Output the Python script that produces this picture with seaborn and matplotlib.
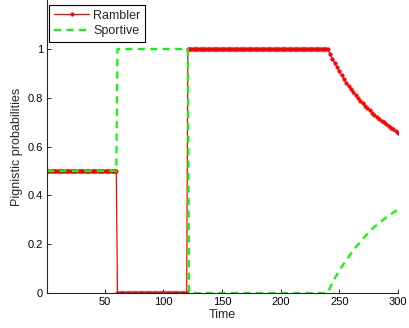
import numpy as np
import pandas as pd
import matplotlib
matplotlib.use("Agg")
import matplotlib.pyplot as plt
import seaborn as sns

# ---- data ----
time_start = 1
time_end = 300

# Rambler: constant levels up to segment ends, then decaying tail
rambler_levels = [0.5, 0.0, 1.0]
rambler_ends = [60, 120, 240]
rambler_tail_t = [240, 242, 244, 246, 248, 250, 252, 254, 256, 258, 260,
                  262, 264, 266, 268, 270, 272, 274, 276, 278, 280,
                  282, 284, 286, 288, 290, 292, 294, 296, 298, 300]
rambler_tail = [1.000, 0.980, 0.961, 0.943, 0.926, 0.909, 0.893, 0.877, 0.862, 0.848, 0.835,
                0.822, 0.810, 0.799, 0.788, 0.777, 0.767, 0.757, 0.748, 0.739, 0.730,
                0.722, 0.714, 0.706, 0.699, 0.692, 0.685, 0.678, 0.671, 0.664, 0.657]

# Sportive: constant levels up to segment ends, then rising tail
sportive_levels = [0.5, 1.0, 0.0]
sportive_ends = [60, 121, 240]
sportive_tail_t = [240, 245, 250, 255, 260, 265, 270, 275, 280, 285, 290, 295, 300]
sportive_tail = [0.0, 0.050, 0.092, 0.128, 0.162, 0.193, 0.221, 0.248, 0.271,
                 0.291, 0.310, 0.326, 0.342]

x_ticks = [50, 100, 150, 200, 250, 300]
y_ticks = [0, 0.2, 0.4, 0.6, 0.8, 1]


def build(levels, ends, tail_t, tail_v):
    ts, vs = [], []
    start = time_start
    for lvl, end in zip(levels, ends):
        seg = np.arange(start, end + 1)
        ts.extend(seg.tolist())
        vs.extend([lvl] * len(seg))
        start = end + 1
    ts.extend(tail_t[1:])
    vs.extend(tail_v[1:])
    return pd.DataFrame({"Time": ts, "p": vs})


df_r = build(rambler_levels, rambler_ends, rambler_tail_t, rambler_tail)
df_s = build(sportive_levels, sportive_ends, sportive_tail_t, sportive_tail)

sns.set_style("white")
plt.rcParams["font.family"] = ["Liberation Sans", "DejaVu Sans"]

fig = plt.figure(figsize=(4.09, 3.28), dpi=100)
ax = fig.add_axes([0.115, 0.1067, 0.858, 0.8927])

sns.lineplot(data=df_r, x="Time", y="p", ax=ax, color="red", lw=0.9,
             marker="o", markersize=2.6, markeredgewidth=0.3,
             markeredgecolor="red", label="Rambler",
             sort=False, estimator=None)
sns.lineplot(data=df_s, x="Time", y="p", ax=ax, color="#00ff00", lw=1.6,
             linestyle=(0, (3.2, 2.4)), label="Sportive",
             sort=False, estimator=None)

ax.set_xlim(time_start, time_end)
ax.set_ylim(0, 1.2)
ax.set_xticks(x_ticks)
ax.set_xticklabels([str(v) for v in x_ticks])
ax.set_yticks(y_ticks)
ax.set_yticklabels(["0", "0.2", "0.4", "0.6", "0.8", "1"])
ax.tick_params(direction="in", length=3, width=0.7, labelsize=8, colors="#262626",
               labelcolor="black", pad=3, bottom=True, left=True)
ax.set_xlabel("Time", fontsize=9, labelpad=1)
ax.set_ylabel("Pignistic probabilities", fontsize=9, labelpad=3)

for s in ["top", "right"]:
    ax.spines[s].set_visible(False)
for s in ["left", "bottom"]:
    ax.spines[s].set_color("#262626")
    ax.spines[s].set_linewidth(0.8)

leg = ax.legend(loc="upper left", bbox_to_anchor=(0.005, 0.985), fontsize=9,
                frameon=True, fancybox=False, framealpha=1, edgecolor="black",
                handlelength=2.85, borderpad=0.4, labelspacing=0.3,
                handletextpad=0.3, borderaxespad=0)
leg.get_frame().set_linewidth(0.8)

fig.savefig("out.png", dpi=100)
